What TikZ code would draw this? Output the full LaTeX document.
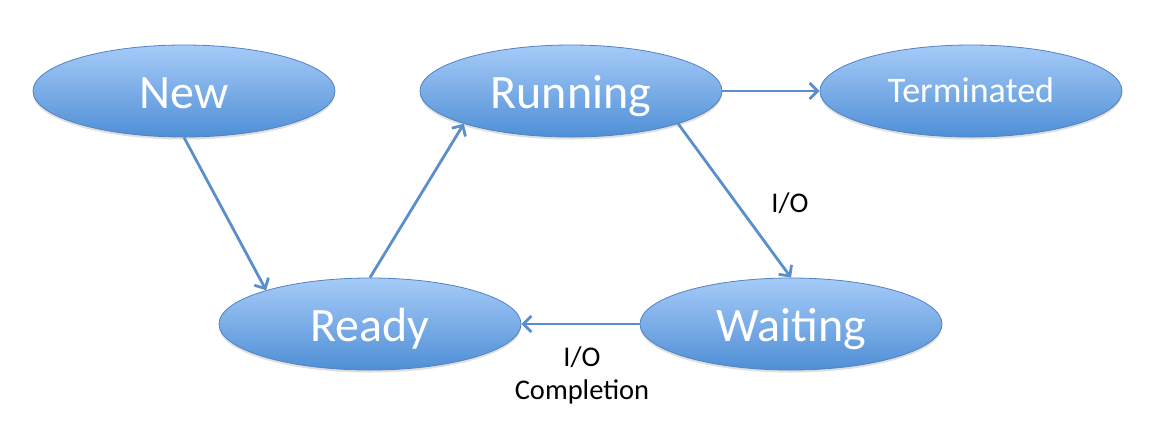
\documentclass[tikz,border=0pt]{standalone}
\usepackage{fontspec}
\setmainfont{Carlito}
\usetikzlibrary{shapes.geometric,arrows.meta,shadows}
\definecolor{topblue}{HTML}{A6CBF8}
\definecolor{botblue}{HTML}{4F8FD6}
\definecolor{edgeblue}{HTML}{5283C0}
\definecolor{arrowblue}{HTML}{5B8FCC}
\tikzset{
  state/.style={ellipse, draw=edgeblue, line width=0.8pt, top color=topblue, bottom color=botblue,
    minimum width=302pt, minimum height=92pt, inner sep=0pt, text=white, font=\fontsize{48}{52}\selectfont,
    text height=34pt, text depth=0pt,
    drop shadow={shadow xshift=0pt, shadow yshift=-2.5pt, opacity=0.25}},
  small/.style={font=\fontsize{36}{40}\selectfont, text height=22pt, text depth=0pt},
  conn/.style={draw=arrowblue, line width=2.8pt, -{Straight Barb[length=8pt,width=16pt,line width=2.8pt]}},
  lbl/.style={font=\fontsize{28.5}{33}\selectfont, text=black, align=center, inner sep=0pt}
}
\begin{document}
\begin{tikzpicture}[x=1pt,y=-1pt]
\useasboundingbox[fill=white] (0,0) rectangle (1154,424);
\node[state] (new) at (184,91) {New};
\node[state] (run) at (571,91) {Running};
\node[state, small] (term) at (971,91) {Terminated};
\node[state] (ready) at (370,324) {Ready};
\node[state] (wait) at (791,324) {Waiting};
\draw[conn] (new.-90) -- (ready.162);
\draw[conn] (ready.north) -- (run.197);
\draw[conn] (run.east) -- (term.west);
\draw[conn] (run.-17) -- (wait.north);
\draw[conn] (wait.west) -- (ready.east);
\node[lbl] (io) at (790,203) {I/O};
\node[lbl] (ioc) at (582,375) {I/O\\Completion};
\end{tikzpicture}
\end{document}
